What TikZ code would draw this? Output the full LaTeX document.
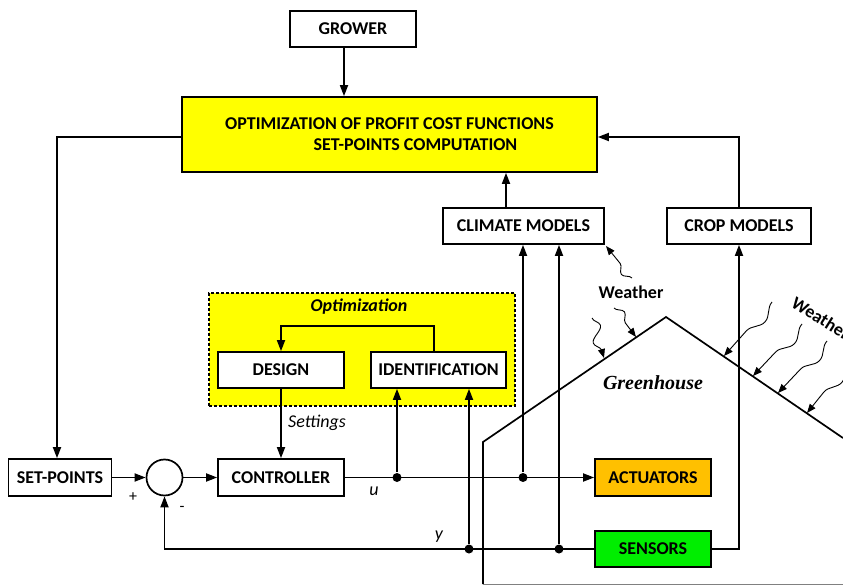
\documentclass[tikz,border=0pt]{standalone}
\usepackage{fontspec}
\setmainfont{Carlito}
\newfontfamily\roofserif{Liberation Serif}
\usetikzlibrary{arrows.meta,decorations.pathmorphing}

\definecolor{optyellow}{RGB}{255,255,0}
\definecolor{actorange}{RGB}{255,192,0}
\definecolor{sensgreen}{RGB}{0,238,0}

\begin{document}
\begin{tikzpicture}[x=1pt,y=-1pt,>={Triangle[length=11pt,width=8pt]},line width=1.7pt,
  block/.style={draw,rectangle,fill=white,inner sep=0pt,minimum height=36pt,
    font=\fontsize{18}{21}\selectfont\bfseries},
  sum node/.style={draw,circle,fill=white,minimum size=36pt,inner sep=0pt},
  junction/.style={circle,fill,inner sep=0pt,minimum size=9pt},
  sign text/.style={font=\fontsize{16}{18}\selectfont},
  signal text/.style={font=\fontsize{18}{21}\selectfont\itshape},
  weather text/.style={font=\fontsize{18}{21}\selectfont\bfseries},
  weather/.style={-{Triangle[length=9pt,width=7pt]},line width=0.9pt,decorate,
    decoration={snake,amplitude=6pt,segment length=30pt,post length=8pt}},
  weather long/.style={weather,decoration={amplitude=8pt,segment length=62pt}}]

  \useasboundingbox (0,0) rectangle (843,585);

  % greenhouse outline
  \draw (483,584) -- (483,442) -- (666,317) -- (843,438);
  \draw[gray,line width=1pt] (483,584) -- (843,584);
  \node[font={\fontsize{20}{24}\roofserif\bfseries\itshape}] (greenhouse) at (653,383) {Greenhouse};

  % supervisory level
  \node[block,minimum width=126pt] (grower) at (353,29) {GROWER};
  \node[block,fill=optyellow,minimum width=415pt,minimum height=75pt,align=center] (optim) at (389.5,134.5)
    {OPTIMIZATION OF PROFIT COST FUNCTIONS\\\hspace*{52pt}SET-POINTS COMPUTATION};
  \node[block,minimum width=161pt] (climate) at (523.5,226) {CLIMATE MODELS};
  \node[block,minimum width=144pt] (crop) at (739,226) {CROP MODELS};

  % adaptive part
  \node[draw,fill=optyellow,line width=1.4pt,dash pattern=on 3pt off 2pt,
    minimum width=306pt,minimum height=113pt] (optbox) at (362,349.5) {};
  \node[font=\fontsize{18}{21}\selectfont\bfseries\itshape] (opttitle) at (359,307) {Optimization};
  \node[block,minimum width=126pt] (design) at (281,370) {DESIGN};
  \node[block,minimum width=135pt] (ident) at (438.5,370) {IDENTIFICATION};

  % control loop
  \node[block,minimum width=103pt,minimum height=37pt] (setpoints) at (60,477.5) {SET-POINTS};
  \node[sum node] (sum) at (164.5,477.5) {};
  \node[block,minimum width=126pt,minimum height=37pt] (controller) at (281,477.5) {CONTROLLER};
  \node[block,fill=actorange,minimum width=116pt,minimum height=37pt] (actuators) at (653,477.5) {ACTUATORS};
  \node[block,fill=sensgreen,minimum width=116pt] (sensors) at (653,549) {SENSORS};

  \node[junction] (u1) at (397,477.5) {};
  \node[junction] (u2) at (523,477.5) {};
  \node[junction] (y1) at (469,549) {};
  \node[junction] (y2) at (559,549) {};

  \node[sign text] (plus) at (133,497) {+};
  \node[sign text] (minus) at (182,509) {-};
  \node[signal text] (ulabel) at (374,491) {u};
  \node[signal text] (ylabel) at (439,537) {y};
  \node[signal text] (settings) at (317,423) {Settings};

  \coordinate (spturn) at (57,137);
  \coordinate (cropturn) at (739,137);
  \coordinate (loopturn) at (434,326);

  \draw[->] ([xshift=-9pt]grower.south) -- ([xshift=-9pt]grower.south |- optim.north);
  \draw[->] (spturn -| optim.west) -- (spturn) -- (spturn |- setpoints.north);
  \draw[->] (crop.north) -- (cropturn) -- (cropturn -| optim.east);
  \draw[->] ([xshift=-17.5pt]climate.north) -- ([xshift=-17.5pt]climate.north |- optim.south);

  \draw[->] (setpoints) -- (sum);
  \draw[->] (sum) -- (controller);
  \draw[->] (controller) -- (actuators);
  \draw[->] (u1) -- (u1 |- ident.south);
  \draw[->] (u2) -- (u2 |- climate.south);
  \draw[->] (y1) -- (y1 |- ident.south);
  \draw[->] (y2) -- (y2 |- climate.south);
  \draw[->] (sensors.west) -- (sum |- sensors.west) -- (sum.south);
  \draw[->] (sensors.east) -- (crop |- sensors.east) -- (crop.south);
  \draw[->] (loopturn |- ident.north) -- (loopturn) -- (loopturn -| design.north) -- (design.north);
  \draw[->] (design) -- (controller);

  % weather acting on the house
  \node[weather text] (weather1) at (631,292) {Weather};
  \node[weather text,rotate=-32] (weather2) at (821,318) {Weather};
  \draw[weather] (632,278) -- (606,246);
  \draw[weather] (614,308) -- (636,337);
  \draw[weather] (592,318) -- (604,358);
  \draw[weather long] (772,302) -- (724,356);
  \draw[weather long] (802,324) -- (753,376);
  \draw[weather long] (827,341) -- (778,393);
  \draw[weather long] (848,362) -- (807,413);
\end{tikzpicture}
\end{document}
